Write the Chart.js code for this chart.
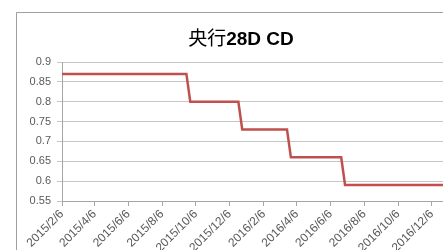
<!DOCTYPE html>
<html>
<head>
<meta charset="utf-8">
<script src="https://cdn.jsdelivr.net/npm/chart.js@4"></script>
<style>
  html, body { margin: 0; padding: 0; background: #fff; overflow: hidden; }
  canvas { position: absolute; left: 0; top: 0; }
</style>
</head>
<body>
<canvas id="cdChart" width="480" height="270"></canvas>
<script>
// 数据：央行28D CD 利率（阶梯）
const dates = ["2015/2/6", "2015/9/19", "2015/9/26", "2015/12/22", "2015/12/29",
  "2016/3/19", "2016/3/26", "2016/6/25", "2016/7/2", "2017/1/6"];
const rates = [0.87, 0.87, 0.80, 0.80, 0.73, 0.73, 0.66, 0.66, 0.59, 0.59];
const xLabels = ["2015/2/6", "2015/4/6", "2015/6/6", "2015/8/6", "2015/10/6", "2015/12/6",
  "2016/2/6", "2016/4/6", "2016/6/6", "2016/8/6", "2016/10/6", "2016/12/6"];
const yTicks = [0.55, 0.6, 0.65, 0.7, 0.75, 0.8, 0.85, 0.9];
const titleCn = "央行";
const titleEn = "28D CD";

// 日期转为距起始日的天数
function dayOf(s) {
  const p = s.split("/").map(Number);
  return (Date.UTC(p[0], p[1] - 1, p[2]) - Date.UTC(2015, 1, 6)) / 86400000;
}

const xTickDays = xLabels.map(dayOf);
const points = dates.map((d, i) => ({ x: dayOf(d), y: rates[i] }));

// 外框 + 标题（中文常规，英文数字加粗）
const framePlugin = {
  id: "frame",
  beforeDraw(chart) {
    const ctx = chart.ctx;
    ctx.save();
    ctx.fillStyle = "#fff";
    ctx.fillRect(0, 0, chart.width, chart.height);
    ctx.strokeStyle = "#a0a0a0";
    ctx.lineWidth = 1;
    ctx.beginPath();
    ctx.moveTo(16.5, chart.height);
    ctx.lineTo(16.5, 12.5);
    ctx.lineTo(chart.width, 12.5);
    ctx.stroke();

    const cnFont = "19px 'Noto Sans CJK SC', sans-serif";
    const enFont = "bold 19px 'Liberation Sans', Arial, sans-serif";
    ctx.font = cnFont;
    const w1 = ctx.measureText(titleCn).width;
    ctx.font = enFont;
    const w2 = ctx.measureText(titleEn).width;
    const x0 = 241 - (w1 + w2) / 2;
    ctx.fillStyle = "#000";
    ctx.textBaseline = "alphabetic";
    ctx.textAlign = "left";
    ctx.font = cnFont;
    ctx.fillText(titleCn, x0, 45);
    ctx.font = enFont;
    ctx.fillText(titleEn, x0 + w1, 45);
    ctx.restore();
  },
};

new Chart(document.getElementById("cdChart").getContext("2d"), {
  type: "line",
  data: {
    datasets: [
      {
        data: points,
        borderColor: "#c0504d",
        borderWidth: 2.5,
        pointRadius: 0,
        tension: 0,
        fill: false,
      },
    ],
  },
  options: {
    responsive: false,
    animation: false,
    devicePixelRatio: 1,
    layout: { padding: { left: 0, right: 31, top: 62, bottom: 0 } },
    scales: {
      x: {
        type: "linear",
        min: 0,
        max: dayOf("2017/1/6"),
        afterBuildTicks: (scale) => {
          scale.ticks = xTickDays.map((v) => ({ value: v }));
        },
        afterFit: (scale) => {
          scale.height = 69;
        },
        ticks: {
          autoSkip: false,
          minRotation: 45,
          maxRotation: 45,
          padding: 1,
          color: "#595959",
          font: { family: "'Liberation Sans', Arial, sans-serif", size: 12 },
          callback: (value, index) => xLabels[index],
        },
        grid: {
          drawOnChartArea: false,
          drawTicks: true,
          tickLength: 5,
          color: "#a6a6a6",
        },
        border: { color: "#a6a6a6" },
      },
      y: {
        min: 0.55,
        max: 0.9,
        afterBuildTicks: (scale) => {
          scale.ticks = yTicks.map((v) => ({ value: v }));
        },
        afterFit: (scale) => {
          scale.width = 62;
        },
        ticks: {
          padding: 6,
          color: "#595959",
          font: { family: "'Liberation Sans', Arial, sans-serif", size: 11 },
          callback: (value) => String(+value.toFixed(2)),
        },
        grid: {
          color: "#c6c6c6",
          tickLength: 5,
        },
        border: { color: "#a6a6a6" },
      },
    },
    plugins: {
      legend: { display: false },
      tooltip: { enabled: false },
      title: { display: false },
    },
  },
  plugins: [framePlugin],
});
</script>
</body>
</html>
